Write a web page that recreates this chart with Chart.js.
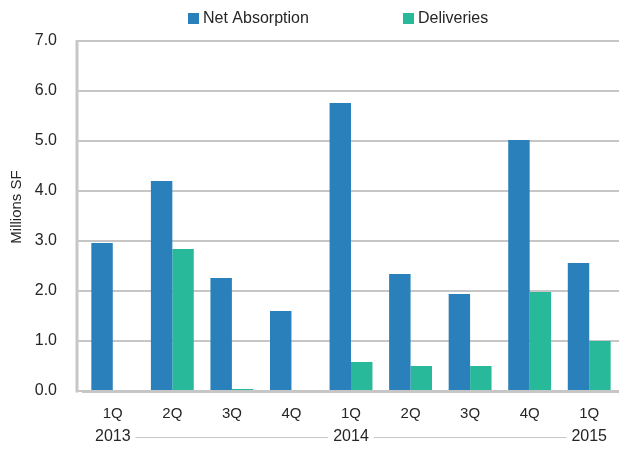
<!DOCTYPE html>
<html>
<head>
<meta charset="utf-8">
<script src="https://cdn.jsdelivr.net/npm/chart.js@4"></script>
<style>
  html, body { margin: 0; padding: 0; background: #fff; }
  #wrap { width: 619px; height: 449px; position: relative; }
</style>
</head>
<body>
<div id="wrap"><canvas id="chart"></canvas></div>
<script>
const quarters = ['1Q', '2Q', '3Q', '4Q', '1Q', '2Q', '3Q', '4Q', '1Q'];
const years = ['2013', '2014', '2015'];
const yearStartIndex = [0, 4, 8];
const netAbsorption = [2.96, 4.2, 2.26, 1.6, 5.76, 2.34, 1.94, 5.02, 2.56];
const deliveries = [0, 2.84, 0.04, 0, 0.58, 0.5, 0.5, 1.98, 1.0];
const yTicks = [0, 1, 2, 3, 4, 5, 6, 7];
const yTitle = 'Millions SF';

const FONT = '"Liberation Sans", Arial, sans-serif';
const TEXT = '#262626';
const GRID = '#c6c6c6';

// year row under the quarter labels, with the thin rules between years
const yearRow = {
  id: 'yearRow',
  afterDraw(chart) {
    const {ctx} = chart;
    const x = chart.scales.x;
    const y = 437;
    ctx.save();
    ctx.font = '16px ' + FONT;
    ctx.fillStyle = TEXT;
    ctx.textAlign = 'center';
    ctx.textBaseline = 'middle';
    let prevRight = null;
    years.forEach((yr, i) => {
      const cx = x.getPixelForValue(yearStartIndex[i]);
      ctx.fillText(yr, cx, y);
      const w = ctx.measureText(yr).width;
      if (prevRight !== null) {
        ctx.strokeStyle = '#c3c8cd';
        ctx.lineWidth = 1;
        ctx.beginPath();
        ctx.moveTo(prevRight + 5, y + 0.5);
        ctx.lineTo(cx - w / 2 - 5, y + 0.5);
        ctx.stroke();
      }
      prevRight = cx + w / 2;
    });
    ctx.restore();
  }
};

// left axis line sits a bit left of the first category, title beside it
const leftAxis = {
  id: 'leftAxis',
  afterDatasetsDraw(chart) {
    const {ctx, chartArea} = chart;
    const lx = chartArea.left - 6;
    ctx.save();
    ctx.strokeStyle = GRID;
    ctx.lineWidth = 3;
    ctx.beginPath();
    ctx.moveTo(lx, chartArea.top - 1);
    ctx.lineTo(lx, chartArea.bottom + 1.5);
    ctx.stroke();

    ctx.translate(17, (chartArea.top + chartArea.bottom) / 2 - 9);
    ctx.rotate(-Math.PI / 2);
    ctx.font = '15px ' + FONT;
    ctx.fillStyle = TEXT;
    ctx.textAlign = 'center';
    ctx.textBaseline = 'middle';
    ctx.fillText(yTitle, 0, 0);
    ctx.restore();
  }
};

const legendRow = {
  id: 'legendRow',
  afterDraw(chart) {
    const {ctx} = chart;
    const items = [[188, 0], [403, 1]];
    ctx.save();
    ctx.font = '16px ' + FONT;
    ctx.textBaseline = 'middle';
    items.forEach(([lx, di]) => {
      const ds = chart.data.datasets[di];
      ctx.fillStyle = ds.backgroundColor;
      ctx.fillRect(lx, 13, 11, 11);
      ctx.fillStyle = TEXT;
      ctx.fillText(ds.label, lx + 15, 18.5);
    });
    ctx.restore();
  }
};

new Chart(document.getElementById('chart'), {
  type: 'bar',
  data: {
    labels: quarters,
    datasets: [
      {label: 'Net Absorption', data: netAbsorption, backgroundColor: '#2a80bb'},
      {label: 'Deliveries', data: deliveries, backgroundColor: '#28b99b'}
    ]
  },
  options: {
    responsive: true,
    maintainAspectRatio: false,
    animation: false,
    layout: {padding: {top: 41, right: 0, left: 0, bottom: 0}},
    datasets: {bar: {categoryPercentage: 0.72, barPercentage: 1}},
    plugins: {legend: {display: false}, tooltip: {enabled: false}},
    scales: {
      x: {
        grid: {display: false, drawTicks: false},
        border: {display: true, color: GRID, width: 3},
        ticks: {color: TEXT, font: {family: FONT, size: 15}, padding: 14, maxRotation: 0},
        afterFit: s => { s.height = 58; }
      },
      y: {
        min: 0,
        max: 7,
        afterBuildTicks: s => { s.ticks = yTicks.map(v => ({value: v})); },
        grid: {color: GRID, lineWidth: 2, drawTicks: true, tickLength: 6, tickColor: GRID},
        border: {display: false},
        ticks: {
          color: TEXT,
          font: {family: FONT, size: 16},
          padding: 20,
          callback: v => v.toFixed(1)
        },
        afterFit: s => { s.width = 83; }
      }
    }
  },
  plugins: [yearRow, leftAxis, legendRow]
});
</script>
</body>
</html>
